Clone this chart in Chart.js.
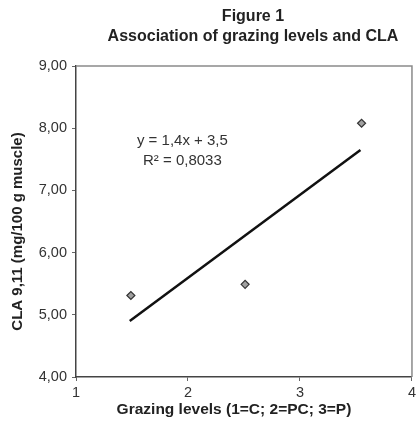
<!DOCTYPE html>
<html lang="en">
<head>
<meta charset="UTF-8">
<title>Figure 1</title>
<script src="https://cdn.jsdelivr.net/npm/chart.js"></script>
<style>
  body { margin: 0; background: #fff; }
  #wrap { width: 419px; height: 430px; }
</style>
</head>
<body>
<div id="wrap"><canvas id="grafico"></canvas></div>
<script>
// values
const levelX = [1.49, 2.51, 3.55];
const claY = [5.31, 5.49, 8.08];
const trendX = [1.48, 3.54];
const trendY = [4.90, 7.65];
const eqLines = ['y = 1,4x + 3,5', 'R\u00b2 = 0,8033'];
const xTicks = [1, 2, 3, 4];
const yTicks = [4, 5, 6, 7, 8, 9];

const titleLines = ['Figure 1', 'Association of grazing levels and CLA'];
const xTitle = 'Grazing levels (1=C; 2=PC; 3=P)';
const yTitle = 'CLA 9,11 (mg/100 g muscle)';

const eqAnchor = { x: 1.95, y: 7.8 }; // where the equation sits, in axis units

const FONT = "'Liberation Sans', Arial, sans-serif";

// frame, titles and regression text
const extras = {
  id: 'extras',
  beforeDatasetsDraw(chart) {
    const { ctx, chartArea: a } = chart;
    ctx.save();
    ctx.strokeStyle = '#8a8a8a';
    ctx.lineWidth = 1.5;
    ctx.beginPath();
    ctx.moveTo(a.left, a.top);
    ctx.lineTo(a.right, a.top);
    ctx.lineTo(a.right, a.bottom);
    ctx.stroke();
    ctx.restore();
  },
  afterDraw(chart) {
    const { ctx, scales, chartArea: a } = chart;
    const mid = (a.left + a.right) / 2;
    ctx.save();
    ctx.textAlign = 'center';
    ctx.textBaseline = 'middle';

    ctx.fillStyle = '#222';
    ctx.font = 'bold 16px ' + FONT;
    titleLines.forEach((t, i) => ctx.fillText(t, mid + 9, 17 + i * 20));

    ctx.font = 'bold 15.5px ' + FONT;
    ctx.fillText(xTitle, mid - 10, a.bottom + 33);

    ctx.save();
    ctx.translate(18, (a.top + a.bottom) / 2 + 10);
    ctx.rotate(-Math.PI / 2);
    ctx.font = 'bold 15px ' + FONT;
    ctx.fillText(yTitle, 0, 0);
    ctx.restore();

    const px = scales.x.getPixelForValue(eqAnchor.x);
    const py = scales.y.getPixelForValue(eqAnchor.y);
    ctx.fillStyle = '#333';
    ctx.font = '15px ' + FONT;
    eqLines.forEach((t, i) => ctx.fillText(t, px, py + i * 20));
    ctx.restore();
  }
};

const ctx = document.getElementById('grafico');

new Chart(ctx, {
  type: 'scatter',
  data: {
    datasets: [
      {
        label: 'CLA',
        data: levelX.map((x, i) => ({ x: x, y: claY[i] })),
        pointStyle: 'rectRot',
        pointRadius: 4,
        backgroundColor: '#a0a0a0',
        borderColor: '#333',
        borderWidth: 1.2
      },
      {
        label: 'Trend',
        data: trendX.map((x, i) => ({ x: x, y: trendY[i] })),
        showLine: true,
        pointRadius: 0,
        borderColor: '#111',
        borderWidth: 2.5
      }
    ]
  },
  options: {
    responsive: true,
    maintainAspectRatio: false,
    animation: false,
    layout: { padding: { top: 66, right: 4, bottom: 0, left: 0 } },
    plugins: {
      legend: { display: false },
      tooltip: { enabled: false },
      title: { display: false }
    },
    scales: {
      x: {
        type: 'linear',
        min: 1,
        max: 4,
        afterFit: s => { s.height = 53; },
        afterBuildTicks: s => { s.ticks = xTicks.map(v => ({ value: v })); },
        ticks: {
          color: '#333',
          padding: 3,
          font: { family: FONT, size: 14.5 },
          callback: v => String(v)
        },
        grid: { drawOnChartArea: false, drawTicks: true, tickLength: 4, color: '#666' },
        border: { display: true, color: '#444', width: 1.5 }
      },
      y: {
        min: 4,
        max: 9,
        afterFit: s => { s.width = 76; },
        afterBuildTicks: s => { s.ticks = yTicks.map(v => ({ value: v })); },
        ticks: {
          color: '#333',
          padding: 5,
          font: { family: FONT, size: 14.5 },
          callback: v => v.toFixed(2).replace('.', ',')
        },
        grid: { drawOnChartArea: false, drawTicks: true, tickLength: 4, color: '#666' },
        border: { display: true, color: '#444', width: 1.5 }
      }
    }
  },
  plugins: [extras]
});
</script>
</body>
</html>
